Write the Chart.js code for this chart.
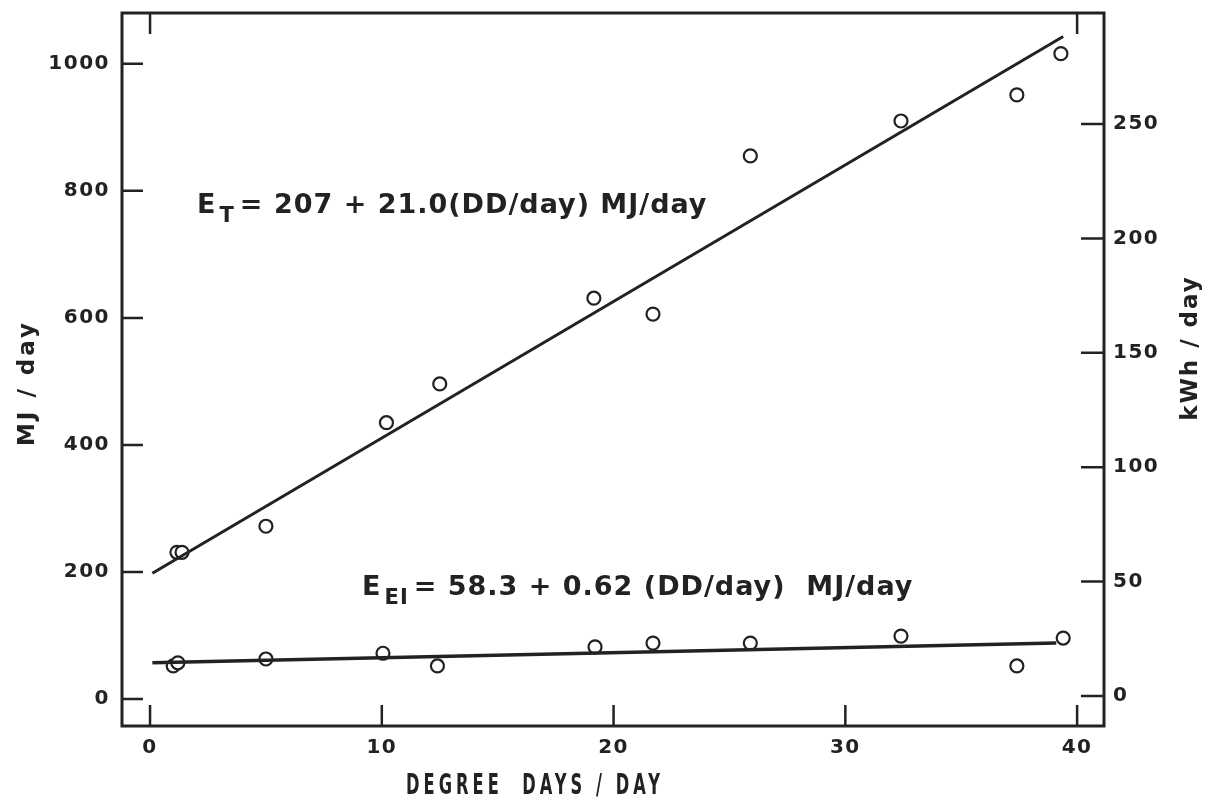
<!DOCTYPE html>
<html>
<head>
<meta charset="utf-8">
<script src="https://cdn.jsdelivr.net/npm/chart.js@4"></script>
<style>
  body { margin: 0; background: #fff; }
  canvas { display: block; }
</style>
</head>
<body>
<canvas id="energyChart" width="1220" height="806"></canvas>
<script>
// measured points, degree days/day vs MJ/day
const ddTotal = [1.16, 1.38, 5.0, 10.2, 12.5, 19.15, 21.7, 25.9, 32.4, 37.4, 39.3];
const mjTotal = [231, 231, 272, 435, 496, 631, 606, 855, 910, 951, 1016];
const ddElec = [1.0, 1.2, 5.0, 10.05, 12.4, 19.2, 21.7, 25.9, 32.4, 37.4, 39.4];
const mjElec = [52, 57, 63, 72, 52, 82, 88, 88, 99, 52, 96];

// fitted line end points
const fitTotalX = [0.1, 39.4];
const fitTotalY = [198, 1043];
const fitElecX = [0.1, 39.1];
const fitElecY = [57, 88];

// tick labels
const xTicks = [0, 10, 20, 30, 40];
const mjTicks = [0, 200, 400, 600, 800, 1000];
const kwhTicks = [0, 50, 100, 150, 200, 250];

const ink = '#222';
const font = '"DejaVu Sans", sans-serif';

const toPts = (xs, ys) => xs.map((x, i) => ({x: x, y: ys[i]}));

// white page, wider lettering for the tick labels
const bgPlugin = {
    id: 'bg',
    beforeDraw(chart) {
        const ctx = chart.ctx;
        ctx.save();
        ctx.fillStyle = '#fff';
        ctx.fillRect(0, 0, chart.width, chart.height);
        ctx.restore();
        ctx.letterSpacing = '1.5px';
    }
};

function rotatedText(ctx, text, x, y) {
    ctx.save();
    ctx.translate(x, y);
    ctx.rotate(-Math.PI / 2);
    ctx.fillText(text, 0, 0);
    ctx.restore();
}

// frame with inward ticks, and axis titles
const framePlugin = {
    id: 'frame',
    beforeDatasetsDraw(chart) {
        const {ctx, chartArea: a, scales} = chart;
        ctx.save();
        ctx.strokeStyle = ink;
        ctx.lineWidth = 3;
        ctx.strokeRect(a.left, a.top, a.right - a.left, a.bottom - a.top);
        ctx.lineWidth = 2.5;
        ctx.beginPath();
        xTicks.forEach(v => {
            const px = scales.x.getPixelForValue(v);
            ctx.moveTo(px, a.bottom);
            ctx.lineTo(px, a.bottom - 21);
        });
        // top ticks only at the ends
        [xTicks[0], xTicks[xTicks.length - 1]].forEach(v => {
            const px = scales.x.getPixelForValue(v);
            ctx.moveTo(px, a.top);
            ctx.lineTo(px, a.top + 21);
        });
        mjTicks.forEach(v => {
            const py = scales.y.getPixelForValue(v);
            ctx.moveTo(a.left, py);
            ctx.lineTo(a.left + 21, py);
        });
        kwhTicks.forEach(v => {
            const py = scales.y2.getPixelForValue(v);
            ctx.moveTo(a.right, py);
            ctx.lineTo(a.right - 23, py);
        });
        ctx.stroke();

        ctx.fillStyle = ink;
        ctx.textAlign = 'center';
        ctx.textBaseline = 'middle';
        ctx.font = 'bold 23px ' + font;
        ctx.letterSpacing = '3px';
        rotatedText(ctx, 'MJ / day', 28, 383);
        ctx.letterSpacing = '2px';
        rotatedText(ctx, 'kWh / day', 1191, 348);

        // narrow, spaced lettering for the x title
        ctx.font = 'bold 28px ' + font;
        ctx.letterSpacing = '7px';
        const title = 'DEGREE  DAYS / DAY';
        const sx = 258 / ctx.measureText(title).width;
        ctx.translate(535, 787);
        ctx.scale(sx, 1);
        ctx.fillText(title, 0, 0);
        ctx.restore();
    }
};

// equation labels with subscripts
function drawEquation(chart, xv, yv, main, sub, rest) {
    const {ctx, scales} = chart;
    let px = scales.x.getPixelForValue(xv);
    const py = scales.y.getPixelForValue(yv);
    ctx.save();
    ctx.fillStyle = ink;
    ctx.textBaseline = 'alphabetic';
    ctx.textAlign = 'left';
    ctx.letterSpacing = '1px';
    ctx.font = 'bold 27px ' + font;
    ctx.fillText(main, px, py);
    px += ctx.measureText(main).width + 3;
    ctx.font = 'bold 21px ' + font;
    ctx.fillText(sub, px, py + 9);
    px += ctx.measureText(sub).width + 5;
    ctx.font = 'bold 27px ' + font;
    ctx.fillText(rest, px, py);
    ctx.restore();
}

const labelPlugin = {
    id: 'labels',
    afterDatasetsDraw(chart) {
        drawEquation(chart, 2.03, 765, 'E', 'T', '= 207 + 21.0(DD/day) MJ/day');
        drawEquation(chart, 9.15, 164, 'E', 'EI', '= 58.3 + 0.62 (DD/day)  MJ/day');
    }
};

const tickFont = {family: font, size: 20, weight: 'bold'};
const plainLabel = v => String(v);
const fitSide = w => s => { s.width = w; s.paddingTop = 0; s.paddingBottom = 0; };

const ctx = document.getElementById('energyChart').getContext('2d');
const energyChart = new Chart(ctx, {
    type: 'scatter',
    data: {
        datasets: [{
            label: 'E_T fit',
            type: 'line',
            data: toPts(fitTotalX, fitTotalY),
            borderColor: ink,
            borderWidth: 3,
            pointRadius: 0,
            yAxisID: 'y'
        }, {
            label: 'E_EI fit',
            type: 'line',
            data: toPts(fitElecX, fitElecY),
            borderColor: ink,
            borderWidth: 3.5,
            pointRadius: 0,
            yAxisID: 'y'
        }, {
            label: 'E_T',
            data: toPts(ddTotal, mjTotal),
            pointStyle: 'circle',
            pointRadius: 6.5,
            borderColor: ink,
            backgroundColor: '#fff',
            borderWidth: 2.2,
            yAxisID: 'y'
        }, {
            label: 'E_EI',
            data: toPts(ddElec, mjElec),
            pointStyle: 'circle',
            pointRadius: 6.5,
            borderColor: ink,
            backgroundColor: '#fff',
            borderWidth: 2.2,
            yAxisID: 'y'
        }]
    },
    options: {
        responsive: false,
        animation: false,
        devicePixelRatio: 1,
        layout: {padding: {top: 13, left: 0, right: 0, bottom: 0}},
        plugins: {
            legend: {display: false},
            tooltip: {enabled: false}
        },
        scales: {
            x: {
                type: 'linear',
                min: -1.21,
                max: 41.16,
                grid: {display: false, drawTicks: false},
                border: {display: false},
                afterBuildTicks: s => { s.ticks = xTicks.map(v => ({value: v})); },
                afterFit: s => { s.height = 80; s.paddingLeft = 0; s.paddingRight = 0; },
                ticks: {padding: 10, color: ink, font: tickFont, callback: plainLabel}
            },
            y: {
                type: 'linear',
                position: 'left',
                min: -42.5,
                max: 1080,
                grid: {display: false, drawTicks: false},
                border: {display: false},
                afterBuildTicks: s => { s.ticks = mjTicks.map(v => ({value: v})); },
                afterFit: fitSide(122),
                ticks: {padding: 12, color: ink, font: tickFont, callback: plainLabel}
            },
            y2: {
                type: 'linear',
                position: 'right',
                min: -13.1,
                max: 298.5,
                grid: {display: false, drawTicks: false},
                border: {display: false},
                afterBuildTicks: s => { s.ticks = kwhTicks.map(v => ({value: v})); },
                afterFit: fitSide(116),
                ticks: {padding: 9, color: ink, font: tickFont, callback: plainLabel}
            }
        }
    },
    plugins: [bgPlugin, framePlugin, labelPlugin]
});
</script>
</body>
</html>
